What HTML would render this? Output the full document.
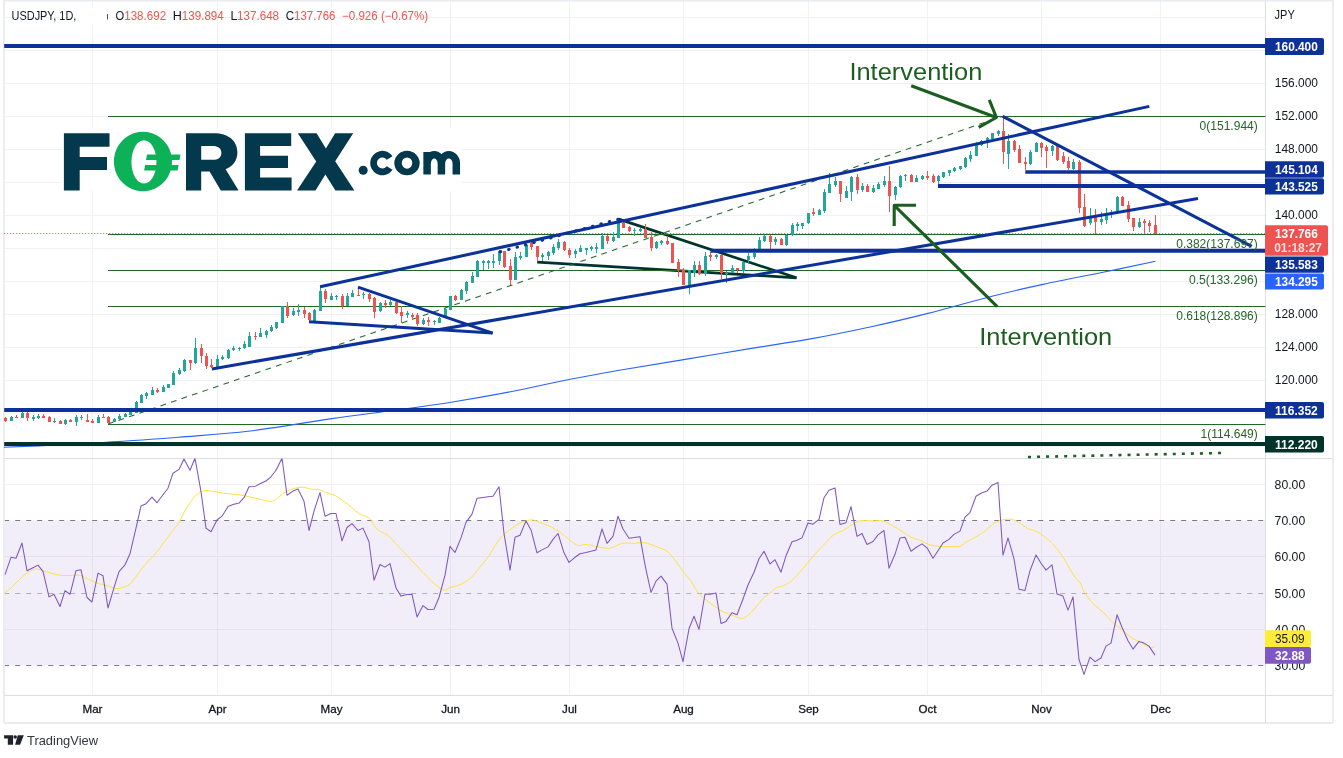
<!DOCTYPE html>
<html><head><meta charset="utf-8"><title>USDJPY</title><style>html,body{margin:0;padding:0;background:#fff;overflow:hidden}</style></head><body>
<div style="will-change:transform;width:1343px;height:758px">
<svg width="1343" height="758" viewBox="0 0 1343 758" style="display:block;font-family:'Liberation Sans', sans-serif">
<rect width="1343" height="758" fill="#fff"/>
<path d="M4.2 446.5H1265.5M4.2 413.5H1265.5M4.2 380.5H1265.5M4.2 347.5H1265.5M4.2 314.5H1265.5M4.2 281.5H1265.5M4.2 248.5H1265.5M4.2 215.5H1265.5M4.2 182.5H1265.5M4.2 149.5H1265.5M4.2 116.5H1265.5M4.2 83.5H1265.5M4.2 50.5H1265.5M4.2 17.5H1265.5M4.2 484.5H1265.5M4.2 556.5H1265.5M4.2 629.5H1265.5M92.5 1V695.5M217.5 1V695.5M331.5 1V695.5M450.5 1V695.5M569.5 1V695.5M683.5 1V695.5M808.5 1V695.5M927.5 1V695.5M1041.5 1V695.5M1160.5 1V695.5" stroke="#f0f1f5" stroke-width="1" fill="none"/>
<rect x="4.2" y="520.5" width="1261.3" height="145.0" fill="#7e57c2" fill-opacity="0.1"/>
<path d="M4.2 520.5H1265.5" stroke="#787b86" stroke-width="1" stroke-dasharray="5 6" fill="none" opacity="1"/>
<path d="M4.2 593.5H1265.5" stroke="#787b86" stroke-width="1" stroke-dasharray="5 6" fill="none" opacity="0.55"/>
<path d="M4.2 665.5H1265.5" stroke="#787b86" stroke-width="1" stroke-dasharray="5 6" fill="none" opacity="1"/>
<path d="M4 0.5H1333M4 723H1333M4 0V723M1333 0V723" stroke="#e9ebf0" stroke-width="1.8" fill="none"/>
<path d="M1265.5 1V723M4.2 458.5H1333M4.2 695.5H1333" stroke="#dcdee4" stroke-width="1" fill="none"/>
<rect x="62" y="128.5" width="399" height="62.5" fill="#fff"/>
<g fill="#04394d">
<path d="M63.9 133.2H109.5V146.8H79.7V157H107V169.9H79.7V190.6H63.9z"/>
<path fill-rule="evenodd" d="M186 133.2H214C228 133.2 237.4 140.5 237.4 152.3C237.4 160.6 233 166.6 225.6 169.3L238.6 190.6H220.8L209.6 171.6H201.2V190.6H186zM201.2 146V159.8H212.6C218 159.8 221.4 157.4 221.4 152.9C221.4 148.4 218 146 212.6 146z"/>
<path d="M244.9 133.2H291.2V146H260.1V155.8H288V168.1H260.1V177.6H291.6V190.6H244.9z"/>
<path d="M297.8 133.2H316.6L325.9 148.6L335.1 133.2H353.2L335.2 161.2L354.4 190.6H335.4L325.4 174.4L315.5 190.6H297L316.2 161.4z"/>
<circle cx="363.2" cy="170.3" r="4.5"/>
<path d="M392.51 156.23A12.2 12.2 0 1 0 392.51 169.87L386.80 166.35A5.5 5.5 0 1 1 386.80 159.75z"/>
<path fill-rule="evenodd" d="M394.3 163.05a12.7 12.2 0 1 0 25.4 0a12.7 12.2 0 1 0 -25.4 0zM401.8 163.05a5.25 5.6 0 1 1 10.5 0a5.25 5.6 0 1 1 -10.5 0z"/>
<path d="M427.1 151.9V174.4M427.1 163.4a7.15 8.65 0 0 1 14.3 0V174.4M441.4 163.4a7.45 8.65 0 0 1 14.9 0V174.4" fill="none" stroke="#04394d" stroke-width="7.5"/>
</g>
<g fill="#0db157">
<path fill-rule="evenodd" d="M142.95 131.7a29.05 29.8 0 1 0 0.01 0zM143.95 140.2a12.55 21.7 0 1 1 -0.01 0z"/>
<path d="M147 154.6H180.5L179.5 159.9H146zM145.1 165.1H178.6L177.6 170.5H144.1z"/>
</g>

<path d="M618.7 219.1L796.5 277.8" stroke="#00332a" stroke-width="2.7" fill="none" />
<path d="M537.2 262.2L796.5 277.8" stroke="#00332a" stroke-width="2.7" fill="none" />
<path d="M108 116.5H1265.5" stroke="#22662a" stroke-width="1" fill="none"/>
<path d="M108 234.5H1265.5" stroke="#22662a" stroke-width="1" fill="none"/>
<path d="M108 270.5H1265.5" stroke="#22662a" stroke-width="1" fill="none"/>
<path d="M108 306.5H1265.5" stroke="#22662a" stroke-width="1" fill="none"/>
<path d="M108 424.5H1265.5" stroke="#22662a" stroke-width="1" fill="none"/>
<path d="M108 424L1003.5 116" stroke="#22662a" stroke-width="1.05" stroke-dasharray="5.8 5.3" fill="none"/>
<path d="M4.2 233.5H1265.5" stroke="#ef5350" stroke-width="1" stroke-dasharray="1 2" fill="none"/>
<path d="M4.0 447.2C11.7 446.9 32.8 446.1 50.0 445.3C67.2 444.5 85.5 443.6 107.0 442.2C128.4 440.8 154.9 439.1 178.7 437.2C202.5 435.3 224.5 434.1 250.0 431.0C275.5 427.9 308.6 422.0 331.9 418.6C355.2 415.2 370.1 413.5 390.0 410.8C409.9 408.1 430.9 405.4 451.0 402.2C471.1 399.0 490.7 395.6 510.6 391.8C530.5 388.0 551.6 382.9 570.2 379.2C588.8 375.5 603.4 373.1 622.3 369.8C641.2 366.5 662.4 363.1 683.7 359.6C705.0 356.1 728.6 352.1 750.0 348.6C771.4 345.1 792.0 342.2 812.0 338.6C832.0 335.0 850.7 331.2 870.0 327.0C889.3 322.8 907.5 318.6 928.0 313.4C948.5 308.2 973.8 300.8 993.0 296.0C1012.2 291.2 1024.7 288.3 1043.0 284.4C1061.3 280.4 1084.2 276.1 1103.0 272.3C1121.8 268.5 1146.8 263.1 1155.5 261.3" stroke="#2962ff" stroke-width="1.1" fill="none"/>
<path d="M11 416h1V421h-1zM22 412h1V418h-1zM33 415h1V421h-1zM38 414h1V419h-1zM54 418h1V423h-1zM65 419h1V425h-1zM76 415h1V426h-1zM81 415h1V420h-1zM98 415h1V423h-1zM114 418h1V422h-1zM119 414h1V420h-1zM125 413h1V417h-1zM130 411h1V415h-1zM136 401h1V413h-1zM141 394h1V403h-1zM146 392h1V399h-1zM152 387h1V395h-1zM163 385h1V392h-1zM168 384h1V388h-1zM173 371h1V385h-1zM179 368h1V375h-1zM184 359h1V372h-1zM195 338h1V364h-1zM217 355h1V367h-1zM222 355h1V360h-1zM228 349h1V359h-1zM233 346h1V351h-1zM239 347h1V351h-1zM244 341h1V349h-1zM249 332h1V347h-1zM260 328h1V337h-1zM266 330h1V338h-1zM271 325h1V332h-1zM276 322h1V329h-1zM282 306h1V323h-1zM293 308h1V316h-1zM298 304h1V316h-1zM314 309h1V321h-1zM320 287h1V311h-1zM331 293h1V300h-1zM336 295h1V300h-1zM347 293h1V306h-1zM352 290h1V297h-1zM363 292h1V299h-1zM380 302h1V312h-1zM390 300h1V306h-1zM407 311h1V318h-1zM423 318h1V325h-1zM434 320h1V325h-1zM439 317h1V323h-1zM445 307h1V316h-1zM450 296h1V310h-1zM461 289h1V300h-1zM466 281h1V294h-1zM472 272h1V283h-1zM477 260h1V277h-1zM483 260h1V270h-1zM488 260h1V269h-1zM493 254h1V268h-1zM499 250h1V265h-1zM515 252h1V280h-1zM520 252h1V260h-1zM526 244h1V257h-1zM542 253h1V261h-1zM548 251h1V260h-1zM553 244h1V255h-1zM558 239h1V250h-1zM575 249h1V258h-1zM580 245h1V252h-1zM586 248h1V255h-1zM591 246h1V251h-1zM596 243h1V253h-1zM602 233h1V249h-1zM613 232h1V242h-1zM618 219h1V238h-1zM634 228h1V236h-1zM640 228h1V232h-1zM656 241h1V249h-1zM661 240h1V245h-1zM689 270h1V294h-1zM694 261h1V277h-1zM705 252h1V276h-1zM716 254h1V259h-1zM726 271h1V283h-1zM732 265h1V273h-1zM743 262h1V273h-1zM748 253h1V264h-1zM754 248h1V259h-1zM759 237h1V249h-1zM764 235h1V242h-1zM775 237h1V245h-1zM786 234h1V246h-1zM792 223h1V236h-1zM797 222h1V231h-1zM802 223h1V229h-1zM808 213h1V224h-1zM819 209h1V215h-1zM824 189h1V213h-1zM829 173h1V193h-1zM835 177h1V187h-1zM846 186h1V198h-1zM851 176h1V201h-1zM862 183h1V192h-1zM873 185h1V193h-1zM878 182h1V189h-1zM884 176h1V187h-1zM895 186h1V200h-1zM900 175h1V188h-1zM905 174h1V181h-1zM916 175h1V182h-1zM922 175h1V180h-1zM938 175h1V184h-1zM943 172h1V178h-1zM949 170h1V176h-1zM954 167h1V172h-1zM960 166h1V170h-1zM965 157h1V168h-1zM970 151h1V162h-1zM976 142h1V156h-1zM981 140h1V146h-1zM987 137h1V148h-1zM992 133h1V139h-1zM998 130h1V136h-1zM1008 134h1V169h-1zM1030 150h1V165h-1zM1036 142h1V152h-1zM1052 145h1V156h-1zM1073 159h1V170h-1zM1090 208h1V225h-1zM1101 212h1V225h-1zM1106 208h1V224h-1zM1111 210h1V218h-1zM1117 196h1V212h-1zM1139 218h1V228h-1z" fill="#26a69a"/>
<path d="M5 417h1V422h-1zM16 415h1V418h-1zM27 412h1V421h-1zM43 414h1V418h-1zM49 416h1V422h-1zM60 420h1V424h-1zM70 419h1V422h-1zM87 414h1V422h-1zM92 419h1V423h-1zM103 414h1V418h-1zM108 416h1V424h-1zM157 388h1V393h-1zM190 360h1V370h-1zM201 344h1V363h-1zM206 353h1V369h-1zM211 359h1V368h-1zM255 332h1V340h-1zM287 302h1V318h-1zM304 307h1V318h-1zM309 312h1V322h-1zM325 289h1V303h-1zM342 294h1V309h-1zM358 288h1V296h-1zM369 293h1V302h-1zM374 297h1V318h-1zM385 300h1V308h-1zM396 302h1V314h-1zM401 306h1V323h-1zM412 313h1V320h-1zM417 313h1V326h-1zM428 317h1V326h-1zM455 295h1V301h-1zM504 251h1V268h-1zM510 259h1V285h-1zM531 242h1V250h-1zM537 246h1V261h-1zM564 241h1V251h-1zM569 248h1V258h-1zM607 235h1V244h-1zM623 222h1V228h-1zM629 226h1V232h-1zM645 224h1V238h-1zM651 232h1V251h-1zM667 236h1V245h-1zM672 243h1V263h-1zM678 259h1V277h-1zM683 268h1V285h-1zM699 261h1V275h-1zM710 252h1V261h-1zM721 254h1V279h-1zM737 268h1V273h-1zM770 235h1V249h-1zM781 238h1V245h-1zM813 208h1V216h-1zM840 181h1V202h-1zM857 174h1V194h-1zM867 184h1V192h-1zM889 166h1V212h-1zM911 174h1V182h-1zM927 171h1V180h-1zM933 174h1V183h-1zM1003 116h1V164h-1zM1014 140h1V152h-1zM1019 145h1V163h-1zM1025 157h1V170h-1zM1041 142h1V157h-1zM1046 145h1V168h-1zM1057 145h1V161h-1zM1063 152h1V164h-1zM1068 157h1V170h-1zM1079 160h1V213h-1zM1084 194h1V227h-1zM1095 209h1V234h-1zM1122 196h1V206h-1zM1128 201h1V222h-1zM1133 218h1V231h-1zM1144 219h1V234h-1zM1149 220h1V232h-1zM1155 215h1V234h-1z" fill="#ef5350"/>
<path d="M10 417h3V421h-3zM21 413h3V418h-3zM32 417h3V419h-3zM37 416h3V418h-3zM53 421h3V422h-3zM64 420h3V424h-3zM75 417h3V422h-3zM80 417h3V418h-3zM97 417h3V423h-3zM113 419h3V422h-3zM118 416h3V419h-3zM124 414h3V417h-3zM129 412h3V415h-3zM135 402h3V413h-3zM140 395h3V403h-3zM145 393h3V396h-3zM151 390h3V395h-3zM162 387h3V392h-3zM167 384h3V388h-3zM172 373h3V385h-3zM178 370h3V374h-3zM183 360h3V371h-3zM194 348h3V363h-3zM216 359h3V367h-3zM221 357h3V359h-3zM227 350h3V358h-3zM232 348h3V350h-3zM238 348h3V349h-3zM243 344h3V348h-3zM248 336h3V347h-3zM259 333h3V337h-3zM265 331h3V335h-3zM270 327h3V331h-3zM275 322h3V328h-3zM281 306h3V323h-3zM292 311h3V315h-3zM297 310h3V312h-3zM313 310h3V321h-3zM319 291h3V311h-3zM330 296h3V300h-3zM335 296h3V297h-3zM346 296h3V306h-3zM351 293h3V297h-3zM362 294h3V295h-3zM379 303h3V311h-3zM389 302h3V305h-3zM406 313h3V315h-3zM422 320h3V324h-3zM433 321h3V322h-3zM438 318h3V323h-3zM444 309h3V316h-3zM449 296h3V310h-3zM460 290h3V300h-3zM465 282h3V291h-3zM471 276h3V283h-3zM476 261h3V277h-3zM482 261h3V263h-3zM487 261h3V263h-3zM492 261h3V263h-3zM498 251h3V261h-3zM514 257h3V280h-3zM519 256h3V258h-3zM525 245h3V257h-3zM541 255h3V257h-3zM547 252h3V256h-3zM552 247h3V253h-3zM557 242h3V248h-3zM574 251h3V254h-3zM579 248h3V252h-3zM585 248h3V250h-3zM590 247h3V249h-3zM595 247h3V249h-3zM601 236h3V249h-3zM612 237h3V241h-3zM617 223h3V238h-3zM633 230h3V231h-3zM639 229h3V231h-3zM655 242h3V248h-3zM660 241h3V243h-3zM688 270h3V285h-3zM693 265h3V273h-3zM704 256h3V274h-3zM715 255h3V257h-3zM725 273h3V274h-3zM731 268h3V273h-3zM742 262h3V271h-3zM747 256h3V260h-3zM753 253h3V257h-3zM758 240h3V249h-3zM763 236h3V241h-3zM774 239h3V242h-3zM785 235h3V245h-3zM791 225h3V235h-3zM796 224h3V226h-3zM801 223h3V226h-3zM807 213h3V223h-3zM818 210h3V215h-3zM823 192h3V211h-3zM828 184h3V193h-3zM834 181h3V185h-3zM845 191h3V198h-3zM850 177h3V192h-3zM861 186h3V190h-3zM872 188h3V192h-3zM877 184h3V189h-3zM883 181h3V185h-3zM894 187h3V195h-3zM899 176h3V187h-3zM904 175h3V176h-3zM915 178h3V182h-3zM921 176h3V179h-3zM937 176h3V181h-3zM942 172h3V177h-3zM948 170h3V173h-3zM953 168h3V171h-3zM959 166h3V169h-3zM964 158h3V167h-3zM969 155h3V159h-3zM975 145h3V156h-3zM980 141h3V145h-3zM986 138h3V141h-3zM991 133h3V139h-3zM997 131h3V134h-3zM1007 141h3V154h-3zM1029 152h3V164h-3zM1035 143h3V152h-3zM1051 146h3V151h-3zM1072 162h3V169h-3zM1089 217h3V223h-3zM1100 219h3V222h-3zM1105 214h3V220h-3zM1110 212h3V214h-3zM1116 197h3V211h-3zM1138 222h3V227h-3z" fill="#26a69a"/>
<path d="M4 418h3V421h-3zM15 417h3V418h-3zM26 413h3V418h-3zM42 416h3V418h-3zM48 417h3V422h-3zM59 421h3V424h-3zM69 420h3V422h-3zM86 420h3V422h-3zM91 421h3V423h-3zM102 417h3V418h-3zM107 417h3V423h-3zM156 390h3V392h-3zM189 360h3V363h-3zM200 348h3V356h-3zM205 356h3V366h-3zM210 365h3V367h-3zM254 336h3V337h-3zM286 306h3V316h-3zM303 310h3V314h-3zM308 313h3V320h-3zM324 291h3V299h-3zM341 296h3V306h-3zM357 295h3V296h-3zM368 294h3V299h-3zM373 298h3V312h-3zM384 303h3V305h-3zM395 302h3V313h-3zM400 312h3V316h-3zM411 315h3V317h-3zM416 315h3V324h-3zM427 320h3V322h-3zM454 296h3V300h-3zM503 251h3V267h-3zM509 266h3V280h-3zM530 243h3V247h-3zM536 246h3V257h-3zM563 242h3V250h-3zM568 250h3V255h-3zM606 236h3V241h-3zM622 223h3V228h-3zM628 227h3V231h-3zM644 229h3V238h-3zM650 237h3V248h-3zM666 241h3V244h-3zM671 243h3V263h-3zM677 262h3V270h-3zM682 270h3V285h-3zM698 265h3V274h-3zM709 255h3V257h-3zM720 255h3V273h-3zM736 268h3V270h-3zM769 236h3V242h-3zM780 239h3V245h-3zM812 212h3V214h-3zM839 181h3V194h-3zM856 177h3V190h-3zM866 186h3V192h-3zM888 181h3V196h-3zM910 175h3V182h-3zM926 176h3V178h-3zM932 176h3V182h-3zM1002 131h3V152h-3zM1013 141h3V150h-3zM1018 149h3V163h-3zM1024 162h3V164h-3zM1040 143h3V148h-3zM1045 147h3V151h-3zM1056 146h3V160h-3zM1062 156h3V162h-3zM1067 161h3V168h-3zM1078 162h3V208h-3zM1083 207h3V226h-3zM1094 217h3V222h-3zM1121 197h3V206h-3zM1127 205h3V219h-3zM1132 218h3V227h-3zM1143 221h3V223h-3zM1148 223h3V226h-3zM1154 225h3V234h-3z" fill="#ef5350"/>
<path d="M4.2 46L1265.5 46" stroke="#0c3299" stroke-width="4" fill="none" />
<path d="M4.2 410L1265.5 410" stroke="#0c3299" stroke-width="4" fill="none" />
<path d="M4.2 444L1265.5 444" stroke="#00332a" stroke-width="4" fill="none" />
<path d="M1025.3 172L1265.5 172" stroke="#0c3299" stroke-width="3.6" fill="none" />
<path d="M938 186L1265.5 186" stroke="#0c3299" stroke-width="3.8" fill="none" />
<path d="M710.5 250.8L1265.5 250.8" stroke="#0c3299" stroke-width="4" fill="none" />
<path d="M320.1 286.7L1149.3 106.4" stroke="#0c3299" stroke-width="3" fill="none" />
<path d="M211.9 368.9L1198 198.5" stroke="#0c3299" stroke-width="3" fill="none" />
<path d="M1002.7 116.3L1251.7 246.4" stroke="#0c3299" stroke-width="3" fill="none" />
<path d="M358 287.2L492.6 333.1" stroke="#0c3299" stroke-width="3" fill="none" />
<path d="M309.1 321.7L492.6 333.1" stroke="#0c3299" stroke-width="3" fill="none" />
<path d="M500.3 251.8L618.7 219.1" stroke="#0c3299" stroke-width="3.1" fill="none" stroke-dasharray="0.4 8.3" stroke-linecap="round"/>
<path d="M1028 457L1221 453" stroke="#1b5e20" stroke-width="2.6" fill="none" stroke-dasharray="3 6.05"/>
<path d="M911.2 85.7L996.4 117.5M989.3 99.9L996.4 117.5L978.7 127.4" stroke="#1b5e20" stroke-width="3.1" fill="none" stroke-linejoin="round" stroke-linecap="butt"/>
<path d="M997.2 306.6L894.2 205.3M916 205.3H894.2V225.9" stroke="#1b5e20" stroke-width="3.1" fill="none" stroke-linejoin="round" stroke-linecap="butt"/>
<text x="849.4" y="79.8" font-size="23.8" fill="#1b5e20" textLength="132.9" lengthAdjust="spacingAndGlyphs">Intervention</text>
<text x="979.3" y="345.4" font-size="23.8" fill="#1b5e20" textLength="132.9" lengthAdjust="spacingAndGlyphs">Intervention</text>
<text x="1199.6" y="130.4" font-size="12.2" fill="#22662a" textLength="58.2" lengthAdjust="spacingAndGlyphs">0(151.944)</text>
<text x="1176.2" y="247.9" font-size="12.2" fill="#22662a" textLength="81.6" lengthAdjust="spacingAndGlyphs">0.382(137.697)</text>
<text x="1188.9" y="284" font-size="12.2" fill="#22662a" textLength="68.9" lengthAdjust="spacingAndGlyphs">0.5(133.296)</text>
<text x="1176.2" y="319.8" font-size="12.2" fill="#22662a" textLength="81.6" lengthAdjust="spacingAndGlyphs">0.618(128.896)</text>
<text x="1200.6" y="438.2" font-size="12.2" fill="#22662a" textLength="57.2" lengthAdjust="spacingAndGlyphs">1(114.649)</text>
<clipPath id="rc"><rect x="4.2" y="458.5" width="1261.3" height="237.0"/></clipPath>
<g clip-path="url(#rc)">
<path d="M4.5 593.1C5.7 592.1 8.9 589.8 11.9 587.1C14.9 584.4 18.9 579.6 22.4 576.7C25.8 573.8 30.2 571.1 32.8 569.8C35.4 568.6 35.4 568.8 37.9 569.2C40.3 569.6 44.1 571.2 47.7 572.2C51.3 573.2 55.9 574.6 59.6 575.2C63.3 575.7 66.6 575.4 70.0 575.5C73.5 575.5 77.2 574.8 80.5 575.5C83.7 576.2 86.4 578.3 89.4 579.7C92.4 581.0 95.4 582.5 98.4 583.5C101.3 584.5 104.3 584.8 107.3 585.6C110.3 586.5 113.8 588.3 116.2 588.6C118.7 588.9 120.0 588.5 122.2 587.7C124.4 587.0 127.2 586.2 129.7 584.1C132.1 582.0 134.4 578.7 137.1 575.2C139.8 571.7 143.1 566.7 146.1 563.3C149.0 559.8 152.0 557.8 155.0 554.3C158.0 550.8 161.0 546.4 163.9 542.4C166.9 538.4 170.4 533.7 172.9 530.5C175.4 527.2 176.9 526.3 178.8 523.0C180.8 519.8 182.3 515.3 184.8 511.1C187.3 506.9 191.3 500.8 193.7 497.7C196.2 494.6 197.7 493.8 199.7 492.6C201.7 491.4 203.2 490.7 205.7 490.5C208.1 490.4 211.6 491.3 214.6 491.7C217.6 492.2 219.6 492.7 223.5 493.2C227.5 493.7 234.0 494.1 238.5 494.7C242.9 495.4 246.4 496.2 250.4 497.1C254.3 497.9 258.8 499.1 262.3 499.8C265.8 500.5 268.8 501.5 271.2 501.3C273.7 501.1 275.2 499.9 277.2 498.6C279.2 497.2 280.9 494.7 283.2 493.2C285.4 491.7 288.1 490.6 290.6 489.6C293.1 488.7 295.8 488.0 298.1 487.6C300.3 487.2 301.8 487.0 304.0 487.3C306.3 487.6 309.0 488.9 311.5 489.3C314.0 489.7 316.2 489.0 318.9 489.6C321.7 490.3 325.1 492.2 327.9 493.2C330.6 494.2 332.8 494.4 335.3 495.6C337.8 496.8 340.0 498.7 342.8 500.7C345.5 502.7 349.0 505.4 351.7 507.5C354.4 509.7 356.2 511.6 359.2 513.5C362.1 515.3 366.9 516.2 369.6 518.6C372.3 520.9 373.6 525.3 375.6 527.5C377.5 529.7 379.5 530.7 381.5 532.0C383.5 533.2 385.5 533.5 387.5 534.9C389.5 536.4 391.5 538.9 393.4 540.9C395.4 542.9 396.0 543.7 398.9 546.9C401.8 550.0 406.9 555.5 410.9 559.7C414.8 563.9 418.8 568.1 422.8 572.2C426.8 576.3 431.1 581.1 434.7 584.1C438.3 587.1 441.8 589.5 444.2 590.1C446.7 590.7 447.0 588.6 449.6 587.7C452.2 586.8 456.6 586.3 460.0 584.7C463.5 583.1 467.2 581.0 470.5 578.2C473.7 575.3 476.4 571.3 479.4 567.7C482.4 564.2 485.4 560.9 488.4 556.7C491.3 552.5 494.8 546.0 497.3 542.4C499.8 538.8 501.3 536.9 503.3 534.9C505.3 533.0 506.7 532.3 509.2 530.5C511.7 528.6 515.2 525.6 518.2 523.9C521.1 522.3 524.6 521.3 527.1 520.6C529.6 520.0 530.6 519.6 533.1 520.0C535.6 520.4 539.0 521.9 542.0 523.0C545.0 524.2 548.0 525.4 551.0 526.9C553.9 528.4 556.9 529.9 559.9 532.0C562.9 534.1 566.1 537.3 568.8 539.4C571.6 541.6 574.3 543.8 576.3 544.8C578.3 545.8 579.3 545.4 580.8 545.4C582.3 545.3 582.7 544.3 585.2 544.5C587.7 544.6 591.9 545.6 595.7 546.3C599.4 546.9 604.6 548.3 607.6 548.4C610.6 548.5 611.1 547.7 613.5 546.9C616.0 546.0 619.0 543.9 622.5 543.3C626.0 542.7 630.9 543.4 634.4 543.3C637.9 543.1 639.9 541.9 643.4 542.4C646.8 542.9 651.3 544.8 655.3 546.3C659.2 547.8 663.7 548.8 667.2 551.3C670.7 553.9 673.4 558.3 676.1 561.8C678.9 565.3 681.1 569.0 683.6 572.2C686.1 575.4 688.6 577.7 691.0 581.1C693.5 584.6 695.5 589.6 698.5 593.1C701.5 596.5 705.2 599.1 708.9 602.0C712.7 604.9 716.9 608.1 720.8 610.4C724.8 612.6 729.3 614.1 732.8 615.4C736.2 616.8 739.2 618.4 741.7 618.4C744.2 618.4 745.4 617.2 747.7 615.4C749.9 613.7 752.4 611.0 755.1 608.0C757.9 605.0 761.6 600.0 764.1 597.5C766.6 595.1 768.0 594.7 770.0 593.1C772.0 591.5 773.8 589.2 776.0 588.0C778.2 586.8 780.8 586.9 783.4 585.6C786.1 584.4 788.8 583.3 791.9 580.6C795.1 577.8 798.9 573.2 802.4 569.2C805.8 565.3 809.3 560.7 812.8 556.7C816.3 552.7 819.7 549.0 823.2 545.4C826.7 541.8 830.2 537.5 833.7 534.9C837.1 532.4 840.6 531.9 844.1 529.9C847.6 527.9 851.5 524.6 854.5 523.0C857.5 521.5 859.0 521.0 862.0 520.6C864.9 520.3 868.9 520.9 872.4 520.9C875.9 521.0 879.4 520.1 882.8 520.9C886.3 521.8 890.0 524.3 893.3 526.0C896.5 527.7 899.2 529.5 902.2 531.4C905.2 533.3 908.2 535.8 911.1 537.3C914.1 538.8 917.1 539.1 920.1 540.3C923.1 541.5 925.6 543.4 929.0 544.5C932.5 545.5 937.0 546.3 941.0 546.6C944.9 546.9 949.6 546.4 952.9 546.3C956.1 546.2 958.1 546.7 960.3 546.0C962.6 545.2 963.6 543.4 966.3 541.8C969.0 540.2 973.5 538.3 976.7 536.4C980.0 534.6 982.7 532.7 985.7 530.5C988.6 528.2 991.9 524.8 994.6 523.0C997.3 521.3 999.6 520.7 1002.1 520.0C1004.5 519.4 1007.3 519.1 1009.5 519.2C1011.7 519.2 1013.5 519.7 1015.5 520.6C1017.5 521.5 1019.2 523.1 1021.4 524.5C1023.7 525.9 1026.4 527.8 1028.9 529.0C1031.4 530.1 1033.8 530.1 1036.3 531.4C1038.8 532.6 1041.1 534.4 1043.8 536.4C1046.5 538.5 1049.5 540.4 1052.7 543.9C1056.0 547.4 1059.7 552.1 1063.2 557.3C1066.6 562.5 1070.6 570.7 1073.6 575.2C1076.6 579.7 1079.3 581.4 1081.0 584.1C1082.8 586.9 1082.0 588.4 1084.0 591.6C1086.0 594.8 1089.7 600.0 1093.0 603.5C1096.2 607.0 1100.2 609.4 1103.4 612.4C1106.6 615.5 1109.1 619.0 1112.3 622.0C1115.6 625.0 1119.5 627.7 1122.8 630.3C1126.0 633.0 1128.7 635.8 1131.7 637.8C1134.7 639.8 1137.7 640.7 1140.7 642.3C1143.6 643.8 1147.2 646.6 1149.6 647.3C1152.0 648.1 1154.1 646.8 1155.0 646.7" stroke="#ffe23b" stroke-width="1" fill="none" stroke-linejoin="round"/>
<path d="M5.0 574.6L11.0 557.3L16.0 558.2L22.0 543.0L27.0 570.7L33.0 567.7L38.0 565.1L43.0 571.3L49.0 596.9L54.0 594.3L60.0 606.5L65.0 590.7L70.0 594.3L76.0 570.7L81.0 569.8L87.0 597.5L92.0 602.0L98.0 573.1L103.0 575.8L108.0 608.0L114.0 587.7L119.0 571.6L125.0 564.8L130.0 553.7L136.0 528.1L141.0 506.0L146.0 503.7L152.0 497.1L157.0 502.8L163.0 494.7L168.0 488.2L173.0 473.2L179.0 469.4L184.0 458.9L190.0 470.3L195.0 458.3L201.0 491.7L206.0 528.1L211.0 531.7L217.0 520.0L222.0 516.2L228.0 506.6L233.0 504.5L239.0 503.1L244.0 497.7L249.0 486.7L255.0 486.4L260.0 483.7L266.0 481.0L271.0 476.8L276.0 470.3L282.0 458.3L287.0 495.3L293.0 491.1L298.0 489.0L304.0 501.3L309.0 530.5L314.0 511.1L320.0 492.6L325.0 516.2L331.0 513.5L336.0 513.5L342.0 540.9L347.0 527.5L352.0 523.6L358.0 530.5L363.0 528.1L369.0 541.8L374.0 580.3L380.0 564.5L385.0 567.1L390.0 563.6L396.0 588.0L401.0 596.1L407.0 594.6L412.0 594.3L417.0 616.9L423.0 605.6L428.0 609.5L434.0 609.2L439.0 597.5L445.0 575.2L450.0 546.3L455.0 552.5L461.0 537.9L466.0 522.4L472.0 514.1L477.0 498.3L483.0 497.4L488.0 496.8L493.0 496.2L499.0 486.7L504.0 533.5L510.0 570.1L515.0 537.3L520.0 535.2L526.0 520.9L531.0 529.9L537.0 552.8L542.0 549.9L548.0 546.9L553.0 539.4L558.0 533.5L564.0 552.8L569.0 562.4L575.0 557.3L580.0 553.7L586.0 552.5L591.0 551.3L596.0 549.9L602.0 529.0L607.0 543.3L613.0 536.4L618.0 516.2L623.0 529.0L629.0 538.2L634.0 537.6L640.0 536.7L645.0 564.8L651.0 592.5L656.0 581.1L661.0 576.1L667.0 584.1L672.0 628.2L678.0 643.1L683.0 661.6L689.0 628.8L694.0 616.3L699.0 629.4L705.0 594.0L710.0 594.3L716.0 593.1L721.0 623.5L726.0 621.4L732.0 612.7L737.0 614.8L743.0 599.0L748.0 585.0L754.0 572.2L759.0 558.8L764.0 551.3L770.0 563.9L775.0 559.7L781.0 572.2L786.0 555.8L792.0 541.8L797.0 540.3L802.0 537.9L808.0 523.0L813.0 524.2L819.0 519.4L824.0 497.7L829.0 490.2L835.0 487.9L840.0 524.5L846.0 522.7L851.0 506.6L857.0 536.4L862.0 533.5L867.0 544.5L873.0 541.5L878.0 534.9L884.0 530.5L889.0 568.3L895.0 554.3L900.0 537.9L905.0 537.3L911.0 551.3L916.0 547.5L922.0 543.9L927.0 547.8L933.0 558.2L938.0 550.7L943.0 543.0L949.0 539.4L954.0 534.4L960.0 531.1L965.0 517.1L970.0 512.6L976.0 496.2L981.0 493.2L987.0 491.1L992.0 485.2L998.0 482.5L1003.0 555.2L1008.0 537.9L1014.0 558.8L1019.0 589.2L1025.0 590.4L1030.0 570.7L1036.0 554.9L1041.0 563.3L1046.0 570.1L1052.0 564.8L1057.0 594.0L1063.0 596.1L1068.0 610.1L1073.0 596.9L1079.0 659.5L1084.0 674.4L1090.0 657.2L1095.0 661.6L1101.0 658.0L1106.0 646.1L1111.0 643.1L1117.0 614.8L1122.0 627.3L1128.0 640.8L1133.0 649.1L1139.0 641.4L1144.0 643.1L1149.0 646.1L1155.0 655.1" stroke="#7e57c2" stroke-width="1.05" fill="none" stroke-linejoin="round"/>
</g>
<text x="1274.8" y="86.8" font-size="12.1" fill="#131722" textLength="43.2" lengthAdjust="spacingAndGlyphs">156.000</text>
<text x="1274.8" y="119.8" font-size="12.1" fill="#131722" textLength="43.2" lengthAdjust="spacingAndGlyphs">152.000</text>
<text x="1274.8" y="152.8" font-size="12.1" fill="#131722" textLength="43.2" lengthAdjust="spacingAndGlyphs">148.000</text>
<text x="1274.8" y="218.8" font-size="12.1" fill="#131722" textLength="43.2" lengthAdjust="spacingAndGlyphs">140.000</text>
<text x="1274.8" y="317.8" font-size="12.1" fill="#131722" textLength="43.2" lengthAdjust="spacingAndGlyphs">128.000</text>
<text x="1274.8" y="350.8" font-size="12.1" fill="#131722" textLength="43.2" lengthAdjust="spacingAndGlyphs">124.000</text>
<text x="1274.8" y="383.8" font-size="12.1" fill="#131722" textLength="43.2" lengthAdjust="spacingAndGlyphs">120.000</text>
<text x="1274.6" y="488.7" font-size="12.1" fill="#131722" textLength="30.6" lengthAdjust="spacingAndGlyphs">80.00</text>
<text x="1274.6" y="525.0" font-size="12.1" fill="#131722" textLength="30.6" lengthAdjust="spacingAndGlyphs">70.00</text>
<text x="1274.6" y="561.2" font-size="12.1" fill="#131722" textLength="30.6" lengthAdjust="spacingAndGlyphs">60.00</text>
<text x="1274.6" y="597.5" font-size="12.1" fill="#131722" textLength="30.6" lengthAdjust="spacingAndGlyphs">50.00</text>
<text x="1274.6" y="633.7" font-size="12.1" fill="#131722" textLength="30.6" lengthAdjust="spacingAndGlyphs">40.00</text>
<text x="1274.6" y="670.0" font-size="12.1" fill="#131722" textLength="30.6" lengthAdjust="spacingAndGlyphs">30.00</text>
<text x="1274.6" y="18.7" font-size="12.1" fill="#131722" textLength="20.2" lengthAdjust="spacingAndGlyphs">JPY</text>
<path d="M1265.0 38H1322a2 2 0 0 1 2 2V52.9a2 2 0 0 1 -2 2H1265.0z" fill="#0c3299"/>
<text x="1275" y="50.8" font-size="12" font-weight="bold" fill="#fff" textLength="42.8" lengthAdjust="spacingAndGlyphs">160.400</text>
<path d="M1265.0 161.3H1322a2 2 0 0 1 2 2V175.8a2 2 0 0 1 -2 2H1265.0z" fill="#0c3299"/>
<text x="1275" y="173.9" font-size="12" font-weight="bold" fill="#fff" textLength="42.8" lengthAdjust="spacingAndGlyphs">145.104</text>
<path d="M1265.0 178.2H1322a2 2 0 0 1 2 2V192.6a2 2 0 0 1 -2 2H1265.0z" fill="#0c3299"/>
<text x="1275" y="190.7" font-size="12" font-weight="bold" fill="#fff" textLength="42.8" lengthAdjust="spacingAndGlyphs">143.525</text>
<path d="M1265.0 225.2H1326a2 2 0 0 1 2 2V253.8a2 2 0 0 1 -2 2H1265.0z" fill="#ef5350"/>
<text x="1275" y="237.8" font-size="12" font-weight="bold" fill="#fff" textLength="42.8" lengthAdjust="spacingAndGlyphs">137.766</text>
<text x="1274.2" y="252.0" font-size="12" font-weight="bold" fill="#fff" fill-opacity="0.8" textLength="47.8" lengthAdjust="spacingAndGlyphs">01:18:27</text>
<path d="M1265.0 256.4H1322a2 2 0 0 1 2 2V270.7a2 2 0 0 1 -2 2H1265.0z" fill="#0c3299"/>
<text x="1275" y="268.8" font-size="12" font-weight="bold" fill="#fff" textLength="42.8" lengthAdjust="spacingAndGlyphs">135.583</text>
<path d="M1265.0 273.5H1322a2 2 0 0 1 2 2V287.5a2 2 0 0 1 -2 2H1265.0z" fill="#2962ff"/>
<text x="1275" y="285.8" font-size="12" font-weight="bold" fill="#fff" textLength="42.8" lengthAdjust="spacingAndGlyphs">134.295</text>
<path d="M1265.0 402H1322a2 2 0 0 1 2 2V416.4a2 2 0 0 1 -2 2H1265.0z" fill="#0c3299"/>
<text x="1275" y="414.5" font-size="12" font-weight="bold" fill="#fff" textLength="42.8" lengthAdjust="spacingAndGlyphs">116.352</text>
<path d="M1265.0 436H1322a2 2 0 0 1 2 2V450.4a2 2 0 0 1 -2 2H1265.0z" fill="#00332a"/>
<text x="1275" y="448.5" font-size="12" font-weight="bold" fill="#fff" textLength="42.8" lengthAdjust="spacingAndGlyphs">112.220</text>
<path d="M1265.0 630.2H1309a2 2 0 0 1 2 2V645a2 2 0 0 1 -2 2H1265.0z" fill="#ffeb3b"/>
<text x="1275" y="642.9" font-size="12" font-weight="normal" fill="#131722" textLength="29.5" lengthAdjust="spacingAndGlyphs">35.09</text>
<path d="M1265.0 647H1309a2 2 0 0 1 2 2V661.8a2 2 0 0 1 -2 2H1265.0z" fill="#7e57c2"/>
<text x="1275" y="659.7" font-size="12" font-weight="bold" fill="#fff" textLength="29.5" lengthAdjust="spacingAndGlyphs">32.88</text>
<text x="92.5" y="712.9" font-size="11.6" fill="#131722" stroke="#131722" stroke-width="0.3" text-anchor="middle">Mar</text>
<text x="217.5" y="712.9" font-size="11.6" fill="#131722" stroke="#131722" stroke-width="0.3" text-anchor="middle">Apr</text>
<text x="331.5" y="712.9" font-size="11.6" fill="#131722" stroke="#131722" stroke-width="0.3" text-anchor="middle">May</text>
<text x="450.5" y="712.9" font-size="11.6" fill="#131722" stroke="#131722" stroke-width="0.3" text-anchor="middle">Jun</text>
<text x="569.5" y="712.9" font-size="11.6" fill="#131722" stroke="#131722" stroke-width="0.3" text-anchor="middle">Jul</text>
<text x="683.5" y="712.9" font-size="11.6" fill="#131722" stroke="#131722" stroke-width="0.3" text-anchor="middle">Aug</text>
<text x="808.5" y="712.9" font-size="11.6" fill="#131722" stroke="#131722" stroke-width="0.3" text-anchor="middle">Sep</text>
<text x="927.5" y="712.9" font-size="11.6" fill="#131722" stroke="#131722" stroke-width="0.3" text-anchor="middle">Oct</text>
<text x="1041.5" y="712.9" font-size="11.6" fill="#131722" stroke="#131722" stroke-width="0.3" text-anchor="middle">Nov</text>
<text x="1160.5" y="712.9" font-size="11.6" fill="#131722" stroke="#131722" stroke-width="0.3" text-anchor="middle">Dec</text>
<rect x="76" y="8" width="31.5" height="17.5" fill="#fff"/>
<rect x="107" y="14" width="1" height="5.5" fill="#50535e"/>
<text x="11.6" y="19.7" font-size="12" fill="#131722" textLength="64.7" lengthAdjust="spacingAndGlyphs">USDJPY, 1D,</text>
<text x="115.5" y="19.7" font-size="12" fill="#131722" textLength="8.7" lengthAdjust="spacingAndGlyphs">O</text>
<text x="124.2" y="19.7" font-size="12" fill="#ef5350" textLength="41.9" lengthAdjust="spacingAndGlyphs">138.692</text>
<text x="172.8" y="19.7" font-size="12" fill="#131722" textLength="9.1" lengthAdjust="spacingAndGlyphs">H</text>
<text x="181.8" y="19.7" font-size="12" fill="#ef5350" textLength="42.0" lengthAdjust="spacingAndGlyphs">139.894</text>
<text x="230.4" y="19.7" font-size="12" fill="#131722" textLength="6.8" lengthAdjust="spacingAndGlyphs">L</text>
<text x="237.1" y="19.7" font-size="12" fill="#ef5350" textLength="42.0" lengthAdjust="spacingAndGlyphs">137.648</text>
<text x="285.7" y="19.7" font-size="12" fill="#131722" textLength="8.4" lengthAdjust="spacingAndGlyphs">C</text>
<text x="294.1" y="19.7" font-size="12" fill="#ef5350" textLength="41.3" lengthAdjust="spacingAndGlyphs">137.766</text>
<text x="342.0" y="19.7" font-size="12" fill="#ef5350" textLength="86.2" lengthAdjust="spacingAndGlyphs">−0.926 (−0.67%)</text>
<g fill="#1e222d"><path d="M4.1 735.2H13.1V744.8H7.8V738.6H4.1z"/><circle cx="15.2" cy="736.9" r="1.75"/><path d="M17.8 735.2H23.8L20.1 744.8H15.1z"/></g>
<text x="27" y="744.9" font-size="13.2" fill="#33363f" textLength="71" lengthAdjust="spacingAndGlyphs">TradingView</text>
</svg>
</div>
</body></html>
